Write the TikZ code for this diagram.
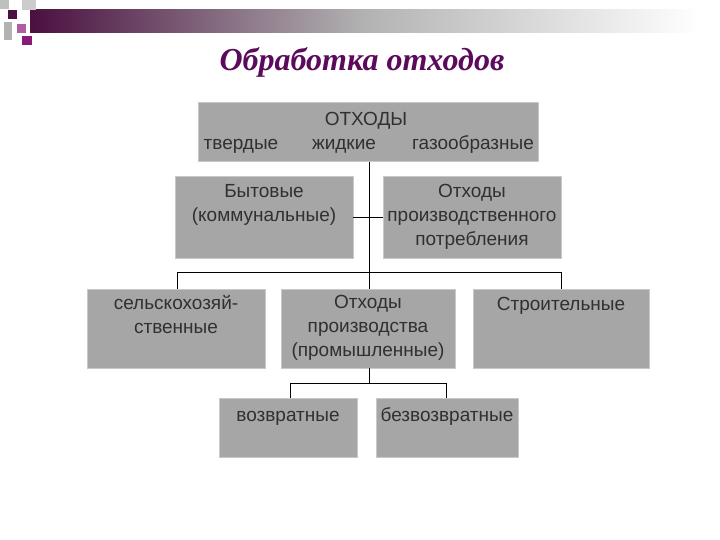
\documentclass[tikz,border=0pt]{standalone}
\usepackage{fontspec}
\setmainfont{Liberation Sans}
\newfontfamily\titlefont{Liberation Serif}
\definecolor{boxgray}{HTML}{A6A6A6}
\definecolor{edgegray}{HTML}{C8C8C8}
\definecolor{txt}{HTML}{303030}
\definecolor{titlepurple}{HTML}{5C0A5C}
\definecolor{darkpurple}{HTML}{4A1040}
\definecolor{magentap}{HTML}{8A1A7A}
\begin{document}
\begin{tikzpicture}[x=1pt,y=-1pt,
  box/.style={draw=edgegray,line width=1pt,fill=boxgray},
  lbl/.style={text=txt,font=\fontsize{19}{24}\selectfont,align=center,inner sep=0pt},
  conn/.style={draw=black,line width=0.8pt}]
\useasboundingbox (0,0) rectangle (720,540);
\fill[white] (0,0) rectangle (720,540);
% decoration
\shade[left color=darkpurple,right color=white,middle color=gray!60] (30,10) rectangle (700,33);
\fill[darkpurple] (8,10) rectangle (17,19);
\fill[gray!50] (0,0) rectangle (9,9);
\fill[gray!40] (22,0) rectangle (36,10);
\fill[magentap!70] (17,24) rectangle (26,33);
\fill[magentap] (22,36) rectangle (32,45);
\fill[gray!60] (4,22) rectangle (12,40);
% title
\node (title) at (362,62) {\titlefont\bfseries\itshape\fontsize{32}{36}\selectfont\color{titlepurple}Обработка отходов};
% boxes
\path[box] (198,103) rectangle (538,162);
\node[lbl,anchor=base] (top) at (366,126) {ОТХОДЫ};
\node[lbl,anchor=base] (t1) at (241,150) {твердые};
\node[lbl,anchor=base] (t2) at (344,150) {жидкие};
\node[lbl,anchor=base] (t3) at (473,150) {газообразные};
\coordinate (topb) at (369,162);
\path[box] (175,177) rectangle (353,258);
\node[lbl,anchor=north] (byt) at (264,184) {Бытовые\\(коммунальные)};
\path[box] (383,177) rectangle (561,258);
\node[lbl,anchor=north] (pp) at (472,184) {Отходы\\производственного\\потребления};
\path[box] (87,289) rectangle (265,368);
\node[lbl,anchor=north] (sel) at (176,295) {сельскохозяй-\\ственные};
\path[box] (281,289) rectangle (455,368);
\node[lbl,anchor=north] (prom) at (368,295) {Отходы\\производства\\(промышленные)};
\path[box] (473,289) rectangle (649,368);
\node[lbl,anchor=base] (str) at (561,310) {Строительные};
\path[box] (219,398) rectangle (357,457);
\node[lbl,anchor=base] (voz) at (288,421) {возвратные};
\path[box] (376,398) rectangle (518,457);
\node[lbl,anchor=base] (bez) at (447,421) {безвозвратные};
% connectors
\coordinate (bus2) at (369,383);
\draw[conn] (topb) -- (369,289);
\draw[conn] (353,217) -- (383,217);
\draw[conn] (177,289) -- (177,272) -- (561,272) -- (561,289);
\draw[conn] (369,368) -- (bus2);
\draw[conn] (290,398) -- (290,383) -- (446,383) -- (446,398);
\end{tikzpicture}
\end{document}
